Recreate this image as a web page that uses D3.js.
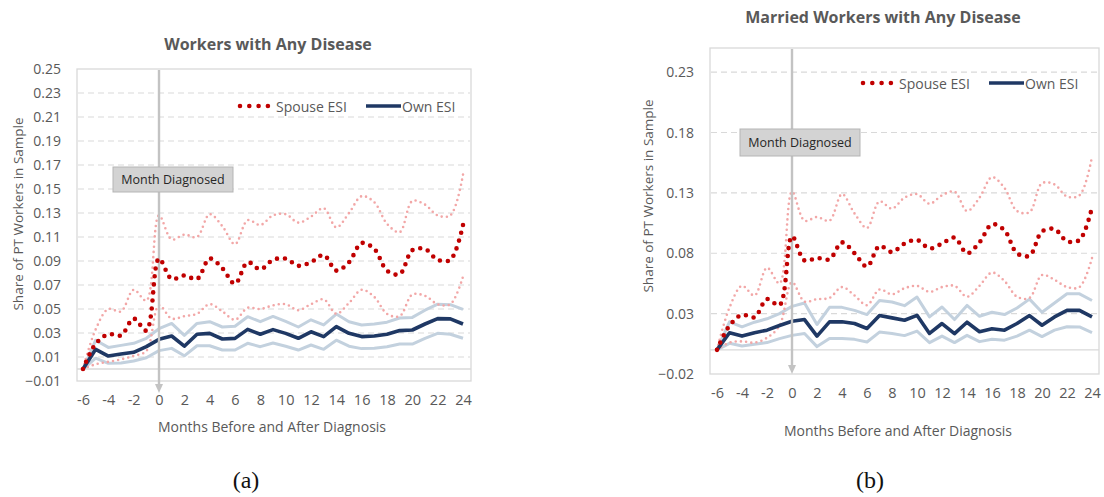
<!DOCTYPE html>
<html>
<head>
<meta charset="utf-8">
<script src="https://cdn.jsdelivr.net/npm/d3@7"></script>
<style>
  html, body { margin: 0; padding: 0; background: #fff; }
  svg { display: block; font-family: "Open Sans", "DejaVu Sans", sans-serif; }
</style>
</head>
<body>
<svg id="fig" width="1104" height="497"></svg>
<script>
// Months relative to the month of diagnosis
const months = [-6, -5, -4, -3, -2, -1, 0, 1, 2, 3, 4, 5, 6, 7, 8, 9, 10, 11, 12, 13, 14, 15, 16, 17, 18, 19, 20, 21, 22, 23, 24];
const monthTicks = [-6, -4, -2, 0, 2, 4, 6, 8, 10, 12, 14, 16, 18, 20, 22, 24];

// Panel (a): all workers with any disease
const spouseAll   = [0, 0.021, 0.029, 0.028, 0.042, 0.032, 0.092, 0.075, 0.078, 0.075, 0.092, 0.084, 0.071, 0.089, 0.083, 0.091, 0.092, 0.086, 0.089, 0.095, 0.082, 0.089, 0.105, 0.100, 0.082, 0.079, 0.099, 0.100, 0.091, 0.091, 0.120];
const spouseAllHi = [0, 0.033, 0.050, 0.048, 0.066, 0.057, 0.128, 0.108, 0.112, 0.110, 0.129, 0.119, 0.104, 0.124, 0.120, 0.128, 0.129, 0.122, 0.127, 0.134, 0.118, 0.130, 0.144, 0.139, 0.121, 0.114, 0.140, 0.137, 0.128, 0.128, 0.162];
const spouseAllLo = [0, 0.004, 0.006, 0.008, 0.011, 0.015, 0.053, 0.042, 0.044, 0.046, 0.054, 0.048, 0.041, 0.051, 0.050, 0.053, 0.054, 0.049, 0.054, 0.058, 0.046, 0.055, 0.066, 0.060, 0.046, 0.044, 0.062, 0.061, 0.054, 0.054, 0.077];
const ownAll      = [0, 0.0164, 0.0108, 0.0125, 0.0139, 0.0186, 0.0247, 0.0275, 0.019, 0.029, 0.0297, 0.025, 0.0255, 0.033, 0.029, 0.0328, 0.0297, 0.0256, 0.031, 0.027, 0.0353, 0.0297, 0.027, 0.0275, 0.029, 0.032, 0.0325, 0.0375, 0.042, 0.0418, 0.0375];
const ownAllHi    = [0, 0.024, 0.018, 0.0197, 0.0214, 0.0256, 0.0336, 0.038, 0.028, 0.038, 0.0394, 0.035, 0.0356, 0.0436, 0.0394, 0.0438, 0.0397, 0.035, 0.041, 0.0367, 0.0458, 0.0394, 0.0367, 0.0375, 0.039, 0.0425, 0.043, 0.049, 0.054, 0.0536, 0.0497];
const ownAllLo    = [0, 0.009, 0.0047, 0.005, 0.0067, 0.0094, 0.0153, 0.0172, 0.011, 0.0194, 0.0194, 0.0158, 0.0158, 0.0214, 0.0186, 0.0217, 0.019, 0.0158, 0.02, 0.0164, 0.024, 0.019, 0.017, 0.0172, 0.0186, 0.0208, 0.0208, 0.0256, 0.0297, 0.029, 0.0256];
const yTicksAll   = [-0.01, 0.01, 0.03, 0.05, 0.07, 0.09, 0.11, 0.13, 0.15, 0.17, 0.19, 0.21, 0.23, 0.25];

// Panel (b): married workers with any disease
const spouseMar   = [0, 0.020, 0.029, 0.027, 0.042, 0.037, 0.094, 0.074, 0.076, 0.075, 0.089, 0.080, 0.069, 0.086, 0.081, 0.088, 0.091, 0.084, 0.088, 0.093, 0.080, 0.089, 0.104, 0.099, 0.080, 0.078, 0.098, 0.100, 0.090, 0.091, 0.118];
const spouseMarHi = [0, 0.035, 0.053, 0.045, 0.068, 0.055, 0.131, 0.107, 0.110, 0.107, 0.129, 0.113, 0.101, 0.123, 0.117, 0.126, 0.129, 0.121, 0.128, 0.131, 0.115, 0.126, 0.143, 0.134, 0.115, 0.114, 0.138, 0.137, 0.127, 0.128, 0.160];
const spouseMarLo = [0, 0.006, 0.007, 0.006, 0.010, 0.020, 0.056, 0.040, 0.042, 0.043, 0.052, 0.045, 0.037, 0.050, 0.046, 0.051, 0.053, 0.048, 0.052, 0.053, 0.044, 0.053, 0.064, 0.057, 0.044, 0.043, 0.062, 0.058, 0.052, 0.052, 0.076];
const ownMar      = [0, 0.0142, 0.0114, 0.0142, 0.0163, 0.0202, 0.0237, 0.0251, 0.0114, 0.0232, 0.0232, 0.0218, 0.0177, 0.0284, 0.0265, 0.0245, 0.0286, 0.0136, 0.0218, 0.0134, 0.0229, 0.015, 0.0175, 0.0163, 0.0218, 0.0284, 0.0204, 0.0273, 0.0327, 0.0327, 0.0273];
const ownMarHi    = [0, 0.0232, 0.0191, 0.0229, 0.0257, 0.030, 0.036, 0.0388, 0.021, 0.0352, 0.0352, 0.0327, 0.0292, 0.0409, 0.0396, 0.0366, 0.0437, 0.0273, 0.0355, 0.0251, 0.0368, 0.0278, 0.0311, 0.0292, 0.0347, 0.042, 0.0311, 0.0388, 0.0464, 0.0464, 0.0409];
const ownMarLo    = [0, 0.0054, 0.0032, 0.0046, 0.006, 0.0093, 0.012, 0.0136, 0.0027, 0.0095, 0.0095, 0.0087, 0.0065, 0.0147, 0.0136, 0.0118, 0.0155, 0.006, 0.0114, 0.006, 0.012, 0.0068, 0.0087, 0.008, 0.0114, 0.0163, 0.011, 0.0163, 0.0191, 0.019, 0.0142];
const yTicksMar   = [-0.02, 0.03, 0.08, 0.13, 0.18, 0.23];

const TEXT = "#595959";
const GRID = "#d9d9d9";
const RED = "#c00000";
const PINK = "#f2a7a7";
const NAVY = "#1f3864";
const STEEL = "#c3d1de";

const svg = d3.select("#fig");

function drawPanel(o) {
  const g = svg.append("g");
  const x = d3.scaleLinear().domain([-6, 24]).range(o.xr);
  const y = d3.scaleLinear().domain(o.yDomain).range([o.box.y1, o.box.y0]);

  // plot-area frame
  g.append("rect")
    .attr("x", o.box.x0).attr("y", o.box.y0)
    .attr("width", o.box.x1 - o.box.x0).attr("height", o.box.y1 - o.box.y0)
    .attr("fill", "none").attr("stroke", GRID).attr("stroke-width", 1.3);

  // dashed horizontal gridlines
  const grid = o.yTicks.filter(v => y(v) > o.box.y0 + 2 && y(v) < o.box.y1 - 2);
  g.append("g").selectAll("line").data(grid).join("line")
    .attr("x1", o.box.x0 + 1).attr("x2", o.box.x1 - 1)
    .attr("y1", d => y(d)).attr("y2", d => y(d))
    .attr("stroke", GRID).attr("stroke-width", 1.2).attr("stroke-dasharray", "6,4");

  // horizontal axis crossing at zero
  g.append("line")
    .attr("x1", o.box.x0).attr("x2", o.box.x1)
    .attr("y1", y(0)).attr("y2", y(0))
    .attr("stroke", GRID).attr("stroke-width", 1.3);

  // y tick labels
  const yAxis = d3.axisLeft(y).tickValues(o.yTicks).tickFormat(d3.format(".2f")).tickSize(0).tickPadding(0);
  const ya = g.append("g").attr("transform", `translate(${o.box.x0 - 16},0)`).call(yAxis);
  ya.select(".domain").remove();
  ya.selectAll("text").attr("fill", TEXT).style("font-size", "14px").style("font-family", "Open Sans");

  // x tick labels
  const xAxis = d3.axisBottom(x).tickValues(monthTicks).tickFormat(d3.format("d")).tickSize(0).tickPadding(0);
  const xa = g.append("g").attr("transform", `translate(0,${o.box.y1 + 14})`).call(xAxis);
  xa.select(".domain").remove();
  xa.selectAll("text").attr("fill", TEXT).style("font-size", "14.5px").style("font-family", "Open Sans")
    .text(d => d < 0 ? "-" + Math.abs(d) : d);

  const straight = d3.line().x((d, i) => x(months[i])).y(d => y(d));
  const smooth = d3.line().x((d, i) => x(months[i])).y(d => y(d)).curve(d3.curveCatmullRom.alpha(0.5));

  // confidence bands for own ESI
  [o.ownHi, o.ownLo].forEach(s => {
    g.append("path").attr("d", straight(s)).attr("fill", "none")
      .attr("stroke", STEEL).attr("stroke-width", 3).attr("stroke-linejoin", "round");
  });
  // confidence bands for spouse ESI
  [o.spHi, o.spLo].forEach(s => {
    g.append("path").attr("d", smooth(s)).attr("fill", "none")
      .attr("stroke", PINK).attr("stroke-width", 2.6).attr("stroke-linecap", "round")
      .attr("stroke-dasharray", "0,5.2");
  });

  // own ESI point estimate
  g.append("path").attr("d", straight(o.own)).attr("fill", "none")
    .attr("stroke", NAVY).attr("stroke-width", 3.6).attr("stroke-linejoin", "round");

  // month of diagnosis marker
  const xd = x(0);
  g.append("line").attr("x1", xd).attr("x2", xd)
    .attr("y1", o.box.y0 + 1).attr("y2", o.arrowTip - 7)
    .attr("stroke", "#c3c3c3").attr("stroke-width", 2.4);
  g.append("path")
    .attr("d", `M${xd - 4},${o.arrowTip - 9} L${xd + 4},${o.arrowTip - 9} L${xd},${o.arrowTip} Z`)
    .attr("fill", "#c3c3c3");

  // spouse ESI point estimate
  g.append("path").attr("d", smooth(o.sp)).attr("fill", "none")
    .attr("stroke", RED).attr("stroke-width", 4.6).attr("stroke-linecap", "round")
    .attr("stroke-dasharray", "0,8");

  // "Month Diagnosed" callout
  g.append("rect").attr("x", o.callout[0]).attr("y", o.callout[1])
    .attr("width", o.callout[2]).attr("height", o.callout[3])
    .attr("fill", "#d3d3d3").attr("stroke", "#b5b5b5").attr("stroke-width", 1);
  g.append("text").attr("x", o.callout[0] + o.callout[2] / 2).attr("y", o.callout[1] + o.callout[3] / 2)
    .attr("text-anchor", "middle").attr("dominant-baseline", "central")
    .attr("fill", "#262626").style("font-size", "12.5px").text("Month Diagnosed");

  // legend
  const lg = g.append("g").attr("transform", `translate(${o.legend[0]},${o.legend[1]})`);
  lg.append("line").attr("x1", 0).attr("x2", 29).attr("y1", 0).attr("y2", 0)
    .attr("stroke", RED).attr("stroke-width", 4.6).attr("stroke-linecap", "round").attr("stroke-dasharray", "0,9.3");
  lg.append("text").attr("x", 36).attr("y", 0).attr("dominant-baseline", "central")
    .attr("fill", TEXT).style("font-size", "14px").text("Spouse ESI");
  lg.append("line").attr("x1", 126).attr("x2", 161).attr("y1", 0).attr("y2", 0)
    .attr("stroke", NAVY).attr("stroke-width", 3.6);
  lg.append("text").attr("x", 162).attr("y", 0).attr("dominant-baseline", "central")
    .attr("fill", TEXT).style("font-size", "14px").text("Own ESI");

  // titles
  g.append("text").attr("x", o.title[0]).attr("y", o.title[1]).attr("text-anchor", "middle")
    .attr("dominant-baseline", "central").attr("fill", TEXT)
    .style("font-size", "16px").style("font-weight", "bold").text(o.titleText);
  g.append("text").attr("x", o.xTitle[0]).attr("y", o.xTitle[1]).attr("text-anchor", "middle")
    .attr("dominant-baseline", "central").attr("fill", TEXT).style("font-size", "14px")
    .text("Months Before and After Diagnosis");
  g.append("text").attr("transform", `translate(${o.yTitle[0]},${o.yTitle[1]}) rotate(-90)`)
    .attr("text-anchor", "middle").attr("dominant-baseline", "central")
    .attr("fill", TEXT).style("font-size", "13.5px").text("Share of PT Workers in Sample");

  // panel letter
  g.append("text").attr("x", o.letter[0]).attr("y", o.letter[1]).attr("text-anchor", "middle")
    .attr("dominant-baseline", "central").attr("fill", "#111")
    .style("font-family", "'Liberation Serif', 'DejaVu Serif', serif").style("font-size", "24px")
    .text(o.letterText);
}

drawPanel({
  box: { x0: 77, x1: 471, y0: 69, y1: 381 },
  xr: [83, 463],
  yDomain: [-0.01, 0.25],
  yTicks: yTicksAll,
  sp: spouseAll, spHi: spouseAllHi, spLo: spouseAllLo,
  own: ownAll, ownHi: ownAllHi, ownLo: ownAllLo,
  arrowTip: 393,
  callout: [113, 167, 120, 25],
  legend: [240, 106],
  title: [268, 44], titleText: "Workers with Any Disease",
  xTitle: [272, 426], yTitle: [18, 214],
  letter: [246, 480], letterText: "(a)"
});

drawPanel({
  box: { x0: 710, x1: 1099, y0: 48, y1: 374 },
  xr: [717, 1092],
  yDomain: [-0.02, 0.25],
  yTicks: yTicksMar,
  sp: spouseMar, spHi: spouseMarHi, spLo: spouseMarLo,
  own: ownMar, ownHi: ownMarHi, ownLo: ownMarLo,
  arrowTip: 374,
  callout: [740, 129, 120, 27],
  legend: [863, 83],
  title: [883, 17], titleText: "Married Workers with Any Disease",
  xTitle: [898, 430], yTitle: [648, 196],
  letter: [870, 480], letterText: "(b)"
});
</script>
</body>
</html>
